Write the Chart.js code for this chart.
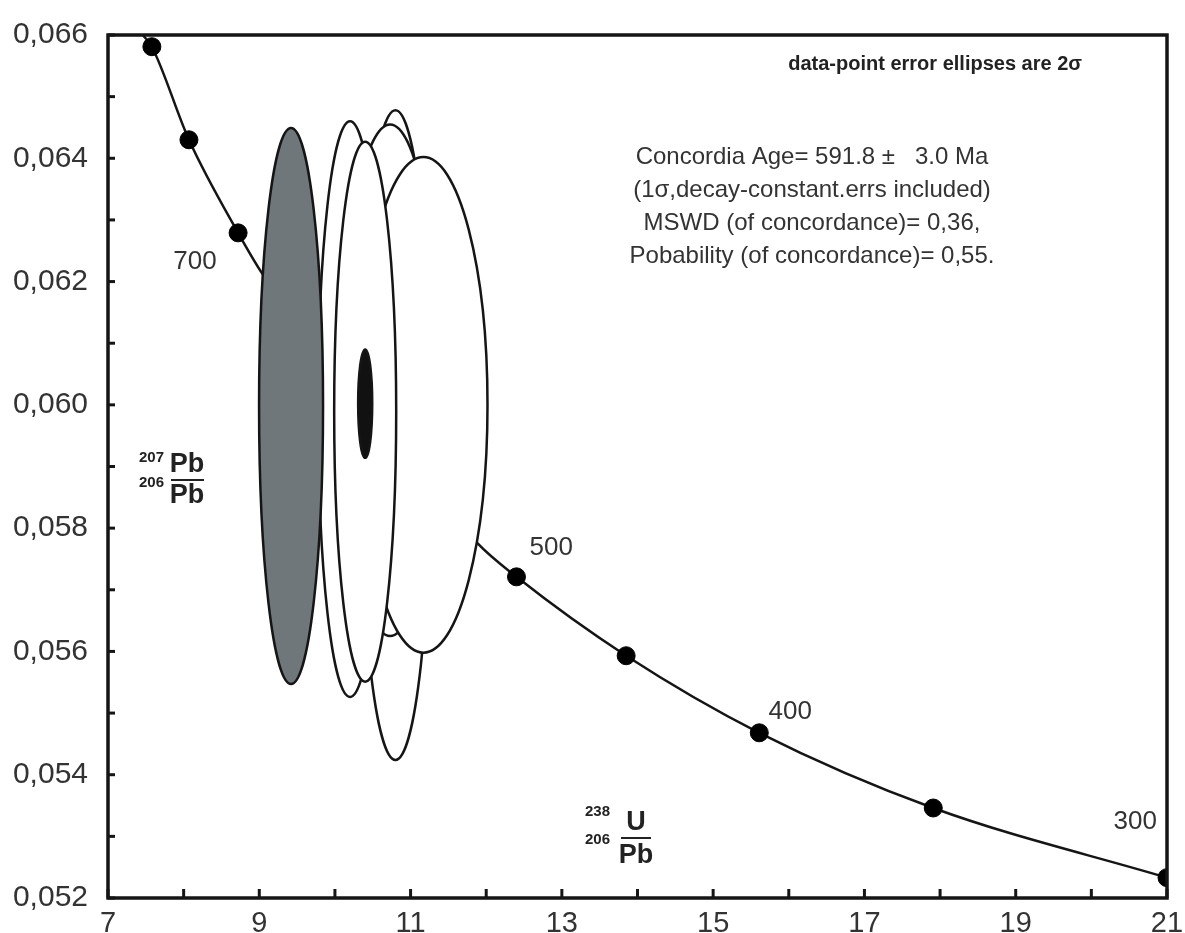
<!DOCTYPE html>
<html>
<head>
<meta charset="utf-8">
<script src="https://cdn.jsdelivr.net/npm/chart.js@4.4.1/dist/chart.umd.min.js"></script>
<style>
  html, body { margin: 0; padding: 0; background: #fff; }
</style>
</head>
<body>
<canvas id="concordiaChart" width="1185" height="933"></canvas>
<script>
// Concordia curve (238U/206Pb vs 207Pb/206Pb)
const curveX = [7.46, 7.58, 8.07, 8.72, 9.05, 11.88, 12.40, 13.85, 15.61, 17.91, 21.0];
const curveY = [0.0660, 0.06581, 0.06430, 0.06279, 0.06211, 0.05776, 0.05721, 0.05593, 0.05468, 0.05346, 0.05233];

// age markers on the curve
const markerAge = [800, 750, 700, 500, 450, 400, 350, 300];
const markerX = [7.58, 8.07, 8.72, 12.40, 13.85, 15.61, 17.91, 21.0];
const markerY = [0.06581, 0.06430, 0.06279, 0.05721, 0.05593, 0.05468, 0.05346, 0.05233];

// age labels (Ma) and where they sit
const ageLabels = ['700', '500', '400', '300'];
const ageLabelX = [8.15, 12.86, 16.02, 20.58];
const ageLabelY = [0.06232, 0.05768, 0.05502, 0.05323];

// error ellipses: centre, half-widths, fill (drawn in this order)
const ellX  = [10.80, 10.73, 11.17, 10.20, 9.42, 10.40, 10.40];
const ellY  = [0.05951, 0.06040, 0.06000, 0.05993, 0.05998, 0.05989, 0.06002];
const ellRX = [0.476, 0.635, 0.847, 0.423, 0.423, 0.410, 0.093];
const ellRY = [0.00527, 0.00415, 0.00402, 0.00467, 0.00451, 0.00438, 0.00088];
const ellFill = ['#ffffff', '#ffffff', '#ffffff', '#ffffff', '#6f777b', '#ffffff', '#111111'];

// axis ticks
const xTicks = [7, 8, 9, 10, 11, 12, 13, 14, 15, 16, 17, 18, 19, 20, 21];
const xTickLabels = [7, 9, 11, 13, 15, 17, 19, 21];
const yTicks = [0.052, 0.053, 0.054, 0.055, 0.056, 0.057, 0.058, 0.059, 0.060, 0.061, 0.062, 0.063, 0.064, 0.065, 0.066];
const yTickLabels = ['0,052', '', '0,054', '', '0,056', '', '0,058', '', '0,060', '', '0,062', '', '0,064', '', '0,066'];

const infoLines = [
  'Concordia Age= 591.8 \u00b1   3.0 Ma',
  '(1\u03c3,decay-constant.errs included)',
  'MSWD (of concordance)= 0,36,',
  'Pobability (of concordance)= 0,55.'
];

const FONT = "'Liberation Sans', Arial, sans-serif";
const INK = '#151515';
const TXT = '#333333';

const ellipsePlugin = {
  id: 'ellipses',
  afterDatasetsDraw(chart) {
    const { ctx, chartArea, scales: { x, y } } = chart;
    ctx.save();
    ctx.beginPath();
    ctx.rect(chartArea.left, chartArea.top, chartArea.right - chartArea.left, chartArea.bottom - chartArea.top);
    ctx.clip();
    for (let i = 0; i < ellX.length; i++) {
      const cx = x.getPixelForValue(ellX[i]);
      const cy = y.getPixelForValue(ellY[i]);
      const rx = Math.abs(x.getPixelForValue(ellX[i] + ellRX[i]) - cx);
      const ry = Math.abs(y.getPixelForValue(ellY[i] + ellRY[i]) - cy);
      ctx.beginPath();
      ctx.ellipse(cx, cy, rx, ry, 0, 0, Math.PI * 2);
      ctx.fillStyle = ellFill[i];
      ctx.fill();
      ctx.lineWidth = 2.5;
      ctx.strokeStyle = INK;
      ctx.stroke();
    }
    ctx.restore();
  }
};

const decorPlugin = {
  id: 'decor',
  afterDraw(chart) {
    const { ctx, chartArea: a, scales: { x, y } } = chart;
    ctx.save();

    // inward ticks
    ctx.strokeStyle = INK;
    ctx.lineWidth = 3;
    xTicks.forEach(v => {
      const px = x.getPixelForValue(v);
      ctx.beginPath();
      ctx.moveTo(px, a.bottom);
      ctx.lineTo(px, a.bottom - 9);
      ctx.stroke();
    });
    yTicks.forEach(v => {
      const py = y.getPixelForValue(v);
      ctx.beginPath();
      ctx.moveTo(a.left, py);
      ctx.lineTo(a.left + 7, py);
      ctx.stroke();
    });

    // frame
    ctx.lineWidth = 3.5;
    ctx.strokeRect(a.left, a.top, a.right - a.left, a.bottom - a.top);

    // age labels
    ctx.fillStyle = TXT;
    ctx.font = '26px ' + FONT;
    ctx.textAlign = 'center';
    ctx.textBaseline = 'middle';
    ageLabels.forEach((t, i) => {
      ctx.fillText(t, x.getPixelForValue(ageLabelX[i]), y.getPixelForValue(ageLabelY[i]));
    });

    // header
    ctx.fillStyle = '#222';
    ctx.font = 'bold 20px ' + FONT;
    ctx.textAlign = 'right';
    ctx.fillText('data-point error ellipses are 2\u03c3', 1082, 64);

    // concordia age block
    ctx.fillStyle = TXT;
    ctx.font = '24px ' + FONT;
    ctx.textAlign = 'center';
    infoLines.forEach((t, i) => ctx.fillText(t, 812, 157 + i * 33));

    // y axis title: 207Pb/206Pb
    ctx.fillStyle = '#222';
    ctx.textAlign = 'right';
    ctx.font = 'bold 15px ' + FONT;
    ctx.fillText('207', 164, 458);
    ctx.fillText('206', 164, 483);
    ctx.textAlign = 'center';
    ctx.font = 'bold 27px ' + FONT;
    ctx.fillText('Pb', 187, 465);
    ctx.fillText('Pb', 187, 496);
    ctx.lineWidth = 2;
    ctx.strokeStyle = '#222';
    ctx.beginPath();
    ctx.moveTo(171, 480);
    ctx.lineTo(204, 480);
    ctx.stroke();

    // x axis title: 238U/206Pb
    ctx.textAlign = 'right';
    ctx.font = 'bold 15px ' + FONT;
    ctx.fillText('238', 610, 812);
    ctx.fillText('206', 610, 840);
    ctx.textAlign = 'center';
    ctx.font = 'bold 27px ' + FONT;
    ctx.fillText('U', 636, 823);
    ctx.fillText('Pb', 636, 856);
    ctx.beginPath();
    ctx.moveTo(621, 838);
    ctx.lineTo(651, 838);
    ctx.stroke();

    ctx.restore();
  }
};

const ctx = document.getElementById('concordiaChart').getContext('2d');
const concordiaChart = new Chart(ctx, {
  type: 'scatter',
  data: {
    datasets: [
      {
        label: 'Concordia',
        data: curveX.map((v, i) => ({ x: v, y: curveY[i] })),
        showLine: true,
        borderColor: INK,
        borderWidth: 2.5,
        pointRadius: 0,
        cubicInterpolationMode: 'monotone',
        order: 2
      },
      {
        label: 'Age markers',
        data: markerX.map((v, i) => ({ x: v, y: markerY[i] })),
        pointRadius: 9,
        pointBackgroundColor: '#000',
        pointBorderColor: '#000',
        pointBorderWidth: 1,
        order: 1
      }
    ]
  },
  options: {
    responsive: false,
    animation: false,
    devicePixelRatio: 1,
    layout: { padding: { top: 35, right: 18, left: 0, bottom: 0 } },
    plugins: {
      legend: { display: false },
      tooltip: { enabled: false }
    },
    scales: {
      x: {
        type: 'linear',
        min: 7,
        max: 21,
        grid: { display: false },
        border: { display: false },
        afterBuildTicks: s => { s.ticks = xTicks.map(v => ({ value: v })); },
        afterFit: s => { s.height = 35; },
        ticks: {
          autoSkip: false,
          maxRotation: 0,
          padding: 1,
          color: TXT,
          font: { family: FONT, size: 29 },
          callback: v => xTickLabels.includes(v) ? String(v) : ''
        }
      },
      y: {
        type: 'linear',
        min: 0.052,
        max: 0.066,
        grid: { display: false },
        border: { display: false },
        afterBuildTicks: s => { s.ticks = yTicks.map(v => ({ value: v })); },
        afterFit: s => { s.width = 108; },
        ticks: {
          autoSkip: false,
          padding: 12,
          color: TXT,
          font: { family: FONT, size: 30 },
          callback: (v, i) => yTickLabels[i]
        }
      }
    }
  },
  plugins: [ellipsePlugin, decorPlugin]
});
</script>
</body>
</html>
